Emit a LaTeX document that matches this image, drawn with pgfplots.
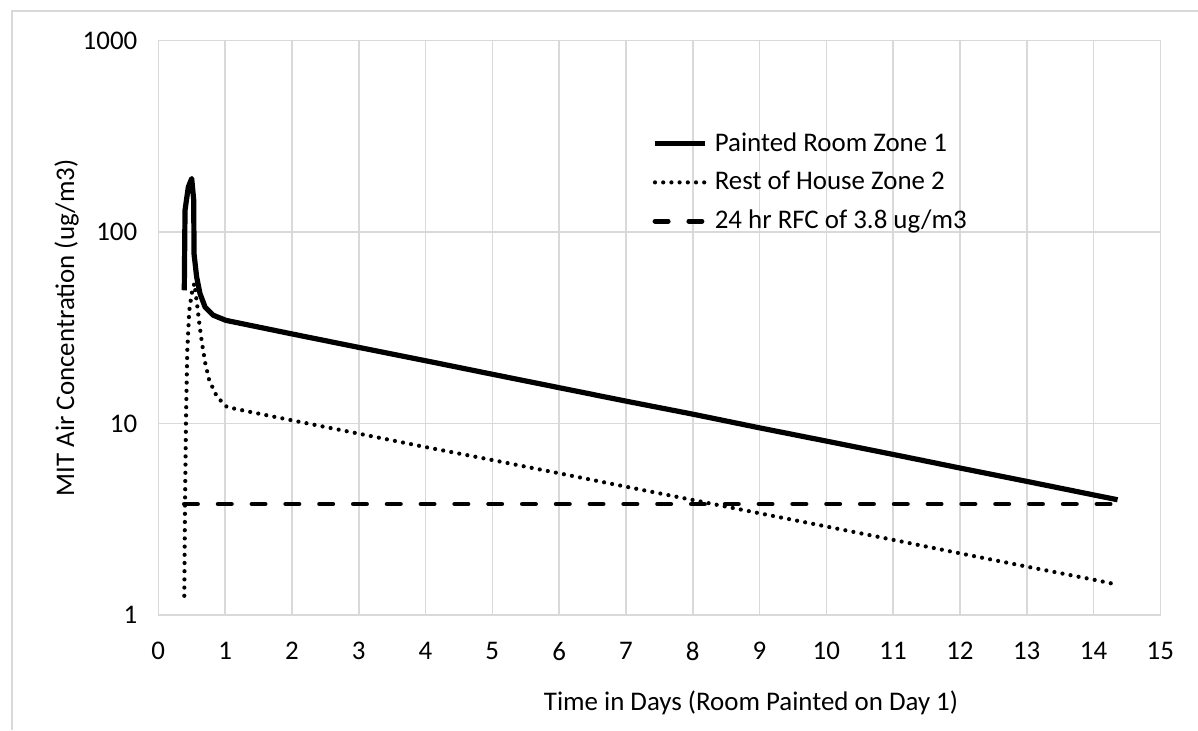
\documentclass[border=0pt]{standalone}
\usepackage{pgfplots}
\pgfplotsset{compat=1.18}
\usepackage{fontspec}
\setmainfont{Carlito}
\definecolor{gridc}{HTML}{D9D9D9}
\begin{document}
\begin{tikzpicture}[x=1bp,y=1bp]
\path[use as bounding box] (0,0) rectangle (599,365);
\draw[gridc, line width=0.9bp] (6,0) -- (6,359.5) -- (599,359.5);
\begin{axis}[
  at={(79.15bp,57.5bp)}, anchor=south west,
  scale only axis, width=501bp, height=287.15bp,
  xmin=0, xmax=15, ymode=log, ymin=1, ymax=1000,
  xtick={0,1,...,15},
  ytick={1,10,100,1000}, yticklabels={1,10,100,1000},
  yminorticks=false,
  grid=major, major grid style={gridc, line width=0.8bp},
  axis line style={gridc, line width=0.8bp},
  tick style={draw=none},
  /pgf/number format/assume math mode=true,
  tick label style={font=\fontsize{13.5}{16}\selectfont},
  yticklabel style={anchor=east, xshift=-7bp},
  xticklabel style={anchor=north, yshift=-10bp},
  label style={font=\fontsize{13.5}{16}\selectfont},
  xlabel={Time in Days (Room Painted on Day 1)},
  xlabel style={at={(axis description cs:0.5915,-0.1654)}, anchor=base},
  ylabel={MIT Air Concentration (ug/m3)},
  ylabel style={at={(axis description cs:-0.0841,0.5)}, anchor=base, rotate=0},
  legend style={at={(axis description cs:0.4927,0.8433)}, anchor=north west,
    draw=none, fill=none, inner sep=0pt, row sep=6.9bp,
    font=\fontsize{13.5}{16}\selectfont,
    nodes={inner xsep=3.6bp, inner ysep=0pt, text height=10bp, text depth=2.5bp}},
  legend cell align=left,
  legend image code/.code={\draw[#1] (0bp,0bp) -- (25bp,0bp);},
]
\addplot[black, no marks, line width=2.6bp, line join=round] coordinates {
(0.389,49.7) (0.40,130) (0.449,172) (0.50,190.6) (0.53,147) (0.535,77)
(0.574,58.3) (0.624,47.8) (0.70,40.6) (0.823,36.8) (1.013,34.6)
(2,29.4) (3,25.0) (4,21.3) (5,18.1) (6,15.4) (7,13.1) (8,11.2)
(9,9.5) (10,8.1) (11,6.9) (12,5.86) (13,4.99) (14,4.24) (14.36,4.0)
};
\addlegendentry{Painted Room Zone 1}
\addplot[black, no marks, line width=2.1bp, line cap=round, dash pattern=on 0bp off 4.1bp] coordinates {
(0.389,1.26) (0.40,3.81) (0.415,10.8) (0.434,24.2) (0.464,39) (0.50,47.8) (0.54,54)
(0.579,42.5) (0.614,33.4) (0.654,26.3) (0.704,20.6) (0.763,16.8) (0.879,13.8)
(1.028,12.2) (1.377,11.5) (2,10.4) (3,8.86) (4,7.54) (5,6.45) (6,5.5) (7,4.68)
(8,3.99) (9,3.40) (10,2.90) (11,2.47) (12,2.10) (13,1.79) (14,1.53) (14.36,1.44)
};
\addlegendentry{Rest of House Zone 2}
\addplot[black, no marks, line width=2.4bp, line cap=round, dash pattern=on 6.6bp off 10.3bp] coordinates {
(0.39,3.8) (14.36,3.8)
};
\addlegendentry{24 hr RFC of 3.8 ug/m3}
\end{axis}
\end{tikzpicture}
\end{document}
